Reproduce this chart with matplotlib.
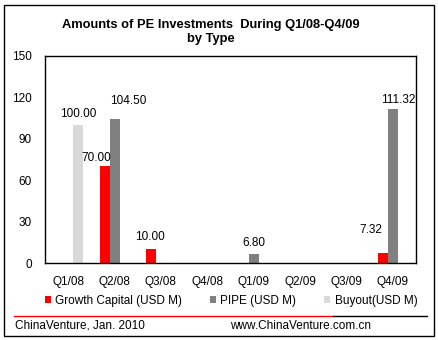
import numpy as np
import matplotlib
matplotlib.use('Agg')
import matplotlib.pyplot as plt
from matplotlib.patches import Patch, Rectangle
from matplotlib.lines import Line2D

plt.rcParams['font.family'] = ['Liberation Sans', 'DejaVu Sans']

# Quarterly PE investment amounts (USD M) by type
quarters = ['Q1/08', 'Q2/08', 'Q3/08', 'Q4/08', 'Q1/09', 'Q2/09', 'Q3/09', 'Q4/09']
growth = [0, 70.00, 10.00, 0, 0, 0, 0, 7.32]
pipe = [0, 104.50, 0, 0, 6.80, 0, 0, 111.32]
buyout = [100.00, 0, 0, 0, 0, 0, 0, 0]
series_names = ['Growth Capital (USD M)', 'PIPE (USD M)', 'Buyout(USD M)']
yticks = [0, 30, 60, 90, 120, 150]

COLORS = ['#ff0000', '#808080', '#d9d9d9']

# label nudges in pixels (dx, dy) so the numbers don't collide
LABEL_SHIFT = {
    (2, 0): (0, 11),
    (0, 1): (-8, 8),
    (1, 1): (14, 18),
    (0, 2): (-1, 12),
    (1, 4): (0, 11),
    (0, 7): (-12, 23),
    (1, 7): (5, 9),
}

W, H, DPI = 439, 340, 100
fig = plt.figure(figsize=(W / DPI, H / DPI), dpi=DPI)
fig.patch.set_facecolor('white')

def px(x, y):
    return x / W, 1 - y / H

ax = fig.add_axes([45 / W, 1 - 263 / H, 371 / W, (263 - 56) / H])

x = np.arange(len(quarters))
bw = 10 / 46.4
FS = 8.5
for s, vals in enumerate([growth, pipe, buyout]):
    pos = x + (s - 1) * bw
    ax.bar(pos, vals, width=bw, color=COLORS[s], linewidth=0)
    for i, v in enumerate(vals):
        if v == 0:
            continue
        dx, dy = LABEL_SHIFT.get((s, i), (0, 10))
        ax.annotate(f'{v:.2f}', (pos[i], v), xytext=(dx * 0.72, dy * 0.72),
                    textcoords='offset points', ha='center', va='center',
                    fontsize=FS, color='black')

ax.set_xlim(-0.5, len(quarters) - 0.5)
ax.set_ylim(0, 150)
ax.set_yticks(yticks)
ax.set_xticks(x)
ax.set_xticklabels(quarters)
ax.tick_params(axis='y', length=0, pad=9.5, labelsize=FS)
ax.tick_params(axis='x', length=0, pad=9, labelsize=FS)
for sp in ax.spines.values():
    sp.set_color('black')
    sp.set_linewidth(1)

# title
tx, ty = px(211, 25)
fig.text(tx, ty, 'Amounts of PE Investments  During Q1/08-Q4/09',
         ha='center', va='center', fontsize=9.3, fontweight='bold')
tx, ty = px(211, 39)
fig.text(tx, ty, 'by Type', ha='center', va='center', fontsize=9.3, fontweight='bold')

# legend
handles = [Patch(facecolor=c, edgecolor='none') for c in COLORS]
fig.legend(handles, series_names, loc='center', bbox_to_anchor=px(231, 301),
           ncol=3, frameon=False, fontsize=FS, handlelength=0.5, handleheight=0.5,
           handletextpad=0.35, columnspacing=2.4, borderpad=0, borderaxespad=0)

# footer rule and source text
fig.add_artist(Line2D([14 / W, 333 / W], [1 - 316 / H] * 2, color='#ff0000', lw=1))
fig.add_artist(Line2D([333 / W, 427 / W], [1 - 316 / H] * 2, color='black', lw=1))
tx, ty = px(15, 326)
fig.text(tx, ty, 'ChinaVenture, Jan. 2010', ha='left', va='center', fontsize=FS)
tx, ty = px(230, 326)
fig.text(tx, ty, 'www.ChinaVenture.com.cn', ha='left', va='center', fontsize=FS)

# outer frame
fig.add_artist(Rectangle((4 / W, 1 - 336 / H), 430 / W, 331 / H, transform=fig.transFigure,
                         fill=False, edgecolor='black', lw=1))

fig.savefig('out.png', dpi=DPI)
